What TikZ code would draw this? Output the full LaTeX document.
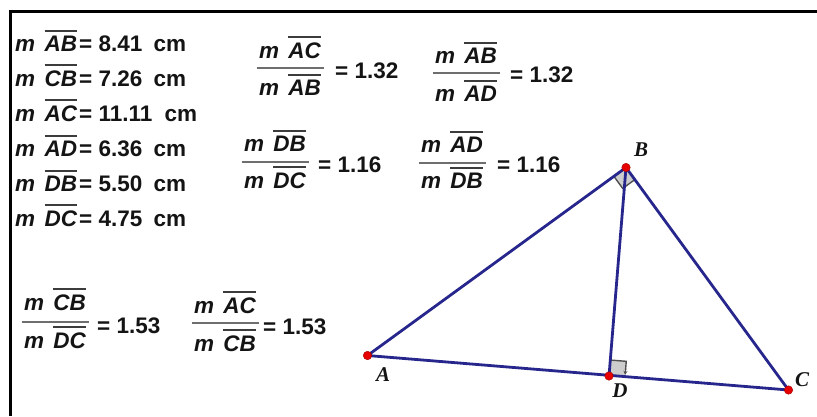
\documentclass[tikz,border=0pt]{standalone}
\usepackage{fontspec}
\setmainfont{Liberation Sans}
\newfontfamily\lblfont{Liberation Serif}
\usetikzlibrary{calc,arrows.meta}
\definecolor{txtcol}{RGB}{20,20,20}
\definecolor{ovcol}{RGB}{60,60,60}
\definecolor{barcol}{RGB}{110,110,110}
\definecolor{tricol}{RGB}{38,38,140}
\definecolor{ptcol}{RGB}{230,0,0}
\definecolor{markfill}{RGB}{205,205,205}
\definecolor{markline}{RGB}{80,80,80}
\newcommand\sg[1]{\leavevmode\setbox0\hbox{\itshape #1}\rlap{\raisebox{\dimexpr\ht0+4pt\relax}{\color{ovcol}\rule{\wd0}{2pt}}}\box0\relax}
\newcommand\mseg[1]{\textit{m}\hspace{0.42em}\sg{#1}}
\begin{document}
\begin{tikzpicture}[x=1pt,y=-1pt,
  txt/.style={inner sep=0pt,font=\fontsize{22.5}{26}\selectfont\bfseries,text=txtcol,anchor=base west},
  frnum/.style={inner sep=0pt,font=\fontsize{22.5}{26}\selectfont\bfseries,text=txtcol,anchor=base},
  fbar/.style={draw=barcol,line width=2pt},
  tri/.style={draw=tricol,line width=2.8pt,line join=round,line cap=round},
  ptdot/.style={circle,fill=ptcol,draw=ptcol!70!black,line width=0.4pt,inner sep=0pt,minimum size=8.5pt},
  plbl/.style={inner sep=0pt,font=\lblfont\fontsize{21}{24}\selectfont\bfseries\itshape,text=txtcol},
  rmark/.style={fill=markfill,draw=none},
  rmarkedge/.style={draw=markline,line width=1.4pt}]
\useasboundingbox (0,0) rectangle (817,416);
% frame
\coordinate (f1) at (8,11);
\coordinate (f2) at (817,11);
\coordinate (f3) at (10,416);
\draw[line width=3pt,black] (f2) -- (f1 -| f3) -- (f3);
% measurements
\node[txt] (r1) at (15,51) {\mseg{AB}\kern2pt= 8.41\hspace{0.5em}cm};
\node[txt] (r2) at (15,86) {\mseg{CB}\kern2pt= 7.26\hspace{0.5em}cm};
\node[txt] (r3) at (15,121) {\mseg{AC}\kern2pt= 11.11\hspace{0.55em}cm};
\node[txt] (r4) at (15,156) {\mseg{AD}\kern2pt= 6.36\hspace{0.5em}cm};
\node[txt] (r5) at (15,191) {\mseg{DB}\kern2pt= 5.50\hspace{0.5em}cm};
\node[txt] (r6) at (15,226) {\mseg{DC}\kern2pt= 4.75\hspace{0.5em}cm};
% fractions
\newcommand\frc[9]{%
  \node[frnum] (#1n) at (#2,#4) {\mseg{#7}};
  \node[frnum] (#1d) at (#2,#5) {\mseg{#8}};
  \coordinate (#1a) at ($(#2,#3)+(-33.5,0)$);
  \coordinate (#1b) at ($(#2,#3)+(33.5,0)$);
  \draw[fbar] (#1a) -- (#1b);
  \node[txt] (#1v) at (#6) {= #9};}
\frc{q1}{290}{68}{58}{95}{335,78}{AC}{AB}{1.32}
\frc{q2}{466}{73}{63}{101}{510,82}{AB}{AD}{1.32}
\frc{q3}{275}{162}{151}{188}{318,172}{DB}{DC}{1.16}
\frc{q4}{452}{163}{152}{188}{497,172}{AD}{DB}{1.16}
\frc{q5}{55}{322}{310}{348}{97,333}{CB}{DC}{1.53}
\frc{q6}{225}{323}{313}{351}{263,334}{AC}{CB}{1.53}
% triangle
\coordinate (A) at (367.5,355.5);
\coordinate (B) at (626,167.5);
\coordinate (C) at (788.5,390);
\coordinate (D) at (609,376);
% right angle at D
\coordinate (d1) at ($(D)!16pt!(C)$);
\coordinate (d2) at ($(D)!16pt!(B)$);
\coordinate (d3) at ($(d1)+(d2)-(D)$);
\fill[rmark] (D) -- (d1) -- (d3) -- (d2) -- cycle;
\draw[rmarkedge] (d2) -- (d3) -- ($(d3)!0.55!(d1)$);
\draw[markline,line width=1pt,-{Stealth[length=4pt,width=4pt]}] ($(d3)!0.4!(d1)$) -- ($(d3)!0.85!(d1)$);
% right angle at B
\coordinate (b1) at ($(B)!15pt!(A)$);
\coordinate (b2) at ($(B)!15pt!(C)$);
\coordinate (b3) at ($(b1)+(b2)-(B)$);
\fill[rmark] (B) -- (b1) -- (b3) -- (b2) -- cycle;
\draw[rmarkedge] (b1) -- (b3) -- (b2);
\draw[tri] (A) -- (B) -- (C) -- cycle;
\draw[tri] (B) -- (D);
\node[ptdot] (pA) at (A) {};
\node[ptdot] (pB) at (B) {};
\node[ptdot] (pC) at (C) {};
\node[ptdot] (pD) at (D) {};
\node[plbl] (lA) at (383,375) {A};
\node[plbl] (lB) at (641,150) {B};
\node[plbl] (lC) at (802,380) {C};
\node[plbl] (lD) at (620,391) {D};
\end{tikzpicture}
\end{document}
